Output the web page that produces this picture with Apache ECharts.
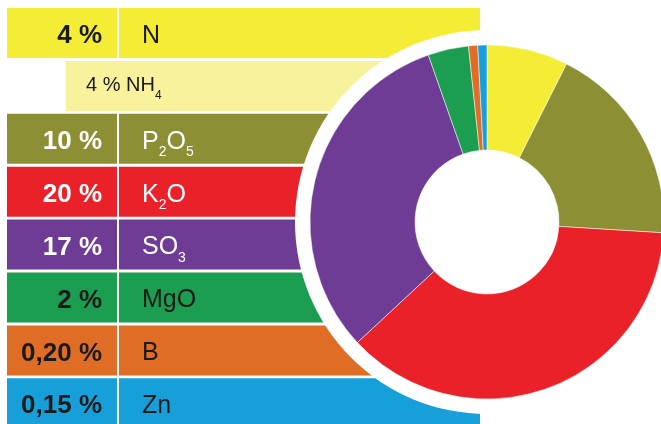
<!DOCTYPE html>
<html>
<head>
<meta charset="utf-8">
<script src="https://cdn.jsdelivr.net/npm/echarts@6/dist/echarts.min.js"></script>
<style>
  html, body { margin: 0; padding: 0; background: #ffffff; }
  #chart { width: 661px; height: 424px; }
</style>
</head>
<body>
<div id="chart"></div>
<script>
// ---- data ----
const rowKeys    = ['N', 'NH4', 'P2O5', 'K2O', 'SO3', 'MgO', 'B', 'Zn'];
const pctLabels  = ['4 %', '', '10 %', '20 %', '17 %', '2 %', '0,20 %', '0,15 %'];
// each name as a list of [text, isSubscript]
const nameParts = [
  [['N', 0]],
  [['4 % NH', 0], ['4', 1]],
  [['P', 0], ['2', 1], ['O', 0], ['5', 1]],
  [['K', 0], ['2', 1], ['O', 0]],
  [['SO', 0], ['3', 1]],
  [['MgO', 0]],
  [['B', 0]],
  [['Zn', 0]]
];
const pieNames  = ['N', 'P2O5', 'K2O', 'SO3', 'MgO', 'B', 'Zn'];
const pieValues = [4, 10, 20, 17, 2, 0.20, 0.15];

// ---- styles / layout ----
const rowColors = ['#F5EC35', '#F7F29B', '#8D8F35', '#EB2129', '#6E3B95', '#1B9E4F', '#E06D26', '#179FD9'];
const textColors = ['#1a1a1a', '#1a1a1a', '#ffffff', '#ffffff', '#ffffff', '#1a1a1a', '#1a1a1a', '#1a1a1a'];
const pieColors = ['#F5EC35', '#8D8F35', '#EB2129', '#6E3B95', '#1B9E4F', '#E06D26', '#179FD9'];
const FONT = '"Liberation Sans", Arial, sans-serif';
const PCT_CELL = 110 / 473 * 100;
const GAP = 2 / 473 * 100;
const INDENT = 59 / 473 * 100;
const isSubRow = (i) => rowKeys[i] === 'NH4';

function richName(i) {
  return nameParts[i].map(p => p[1] ? '{s|' + p[0] + '}' : '{m|' + p[0] + '}').join('');
}

const pctData = rowKeys.map((k, i) => ({
  value: isSubRow(i) ? INDENT : PCT_CELL,
  itemStyle: { color: isSubRow(i) ? 'rgba(0,0,0,0)' : rowColors[i] },
  label: {
    show: !isSubRow(i),
    position: 'insideRight',
    distance: 15,
    offset: [0, 3],
    formatter: pctLabels[i],
    color: textColors[i],
    fontSize: 26,
    fontWeight: 'bold',
    fontFamily: FONT
  }
}));
const gapData = rowKeys.map((k, i) => ({
  value: isSubRow(i) ? 0 : GAP,
  itemStyle: { color: 'rgba(0,0,0,0)' }
}));
const nameData = rowKeys.map((k, i) => {
  const sub = isSubRow(i);
  return {
    value: 100 - (sub ? INDENT : PCT_CELL + GAP),
    itemStyle: { color: rowColors[i] },
    label: {
      show: true,
      position: 'insideLeft',
      distance: sub ? 20 : 23,
      offset: [0, sub ? 0 : 3],
      formatter: richName(i),
      rich: {
        m: { fontSize: sub ? 20 : 25, color: textColors[i], fontFamily: FONT },
        s: { fontSize: sub ? 12 : 14, color: textColors[i], fontFamily: FONT, padding: [sub ? 19 : 21, 0, 0, 0] }
      }
    }
  };
});

const chart = echarts.init(document.getElementById('chart'), null, { renderer: 'canvas' });
chart.setOption({
  animation: false,
  backgroundColor: '#ffffff',
  grid: { left: 7, right: 181, top: 33, height: 7 * 52.9 },
  xAxis: { type: 'value', min: 0, max: 100, show: false },
  yAxis: { type: 'category', data: rowKeys, inverse: true, boundaryGap: false, show: false },
  series: [
    { type: 'bar', name: 'pct', stack: 'row', barWidth: 50, silent: true, data: pctData },
    { type: 'bar', name: 'gap', stack: 'row', barWidth: 50, silent: true, data: gapData },
    { type: 'bar', name: 'name', stack: 'row', barWidth: 50, silent: true, data: nameData },
    {
      type: 'pie', name: 'ring', silent: true,
      center: [487, 222], radius: [0, 192],
      label: { show: false }, labelLine: { show: false },
      itemStyle: { color: '#ffffff' },
      emphasis: { disabled: true },
      data: [{ value: 1, name: 'ring' }]
    },
    {
      type: 'pie', name: 'nutrients', silent: true,
      center: [487, 222], radius: [72, 177],
      startAngle: 90, clockwise: true, minAngle: 3,
      label: { show: false }, labelLine: { show: false },
      itemStyle: { borderColor: '#ffffff', borderWidth: 0.5 },
      emphasis: { disabled: true },
      data: pieNames.map((n, i) => ({ name: n, value: pieValues[i], itemStyle: { color: pieColors[i] } }))
    }
  ]
});
</script>
</body>
</html>
